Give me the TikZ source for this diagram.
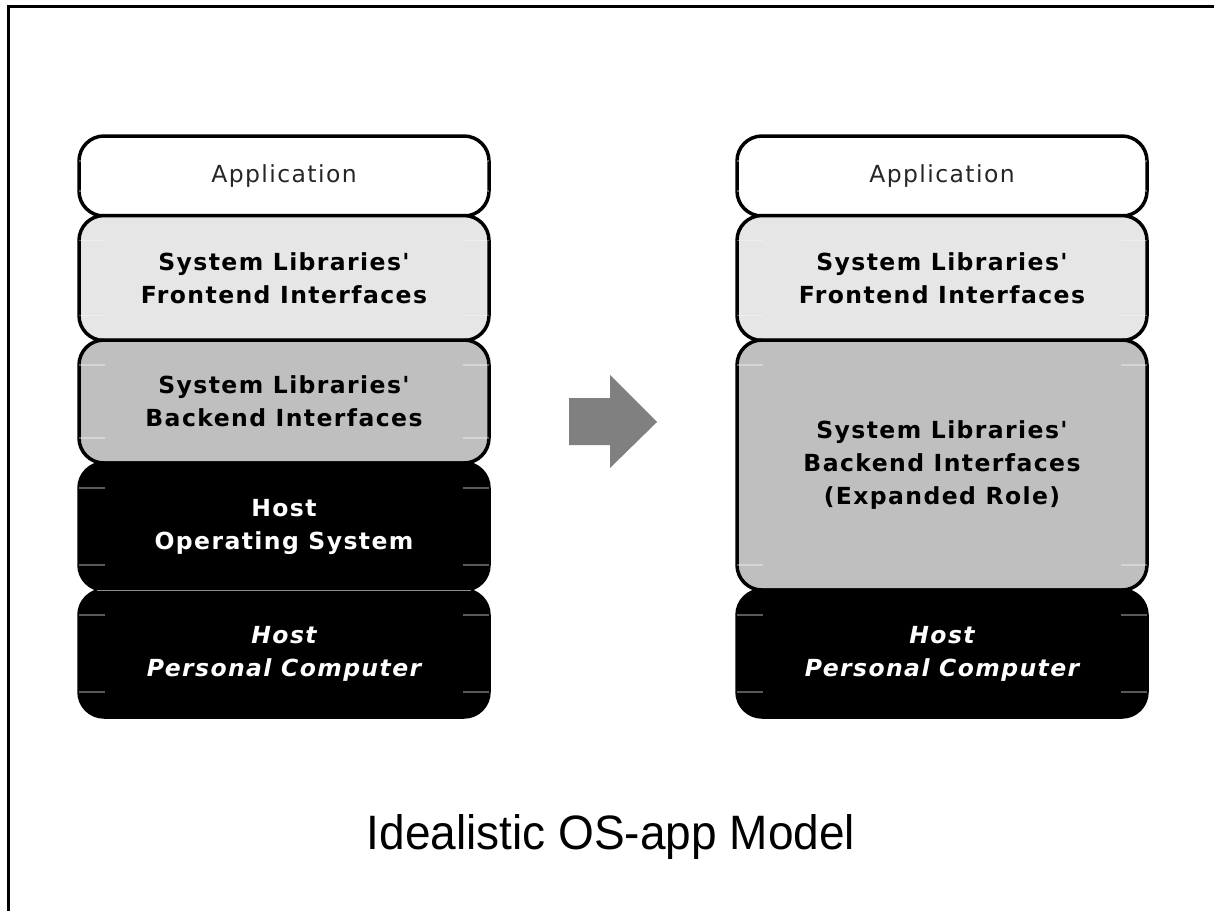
\documentclass[tikz,border=0pt]{standalone}
\usepackage{fontspec}
\setmainfont{DejaVu Sans}
\newfontfamily\layerfont[LetterSpace=6,Ligatures=TeXOff]{DejaVu Sans}
\newfontfamily\titlefont{Liberation Sans}
\definecolor{frontfill}{HTML}{E6E6E6}
\definecolor{backfill}{HTML}{BFBFBF}
\definecolor{arrowfill}{HTML}{808080}

\begin{document}
\begin{tikzpicture}[x=1pt,y=-1pt,
  layer/.style={rectangle, rounded corners=25pt, draw=black, line width=3.5pt,
    minimum width=410pt, inner sep=0pt, outer sep=0pt, align=center,
    font=\layerfont\fontsize{23.5}{33}\selectfont},
  applayer/.style={layer, fill=white, text=black!85, minimum height=80pt},
  frontlayer/.style={layer, fill=frontfill, font=\layerfont\fontsize{23.5}{33}\selectfont\bfseries, minimum height=125pt},
  backlayer/.style={layer, fill=backfill, font=\layerfont\fontsize{23.5}{33}\selectfont\bfseries},
  hostlayer/.style={layer, fill=black, text=white, font=\layerfont\fontsize{23.5}{33}\selectfont\bfseries, minimum height=127pt},
  tick/.style={white, opacity=0.35, line width=1.5pt},
  seam/.style={black!45, line width=1pt},
  frame/.style={line width=3pt}
]
\useasboundingbox[fill=white] (0,0) rectangle (1214,911);

% page frame
\draw[frame] (8,911) -- (8,6) -- (1214,6);

% left stack
\node[applayer]   (appL)   at (284,176)   {Application};
\node[frontlayer] (frontL) at (284,278) {System Libraries'\\Frontend Interfaces};
\node[backlayer, minimum height=123pt] (backL) at (284,401.5) {System Libraries'\\Backend Interfaces};
\node[hostlayer]  (osL)    at (284,526.5) {Host\\Operating System};
\node[hostlayer, font=\layerfont\fontsize{23.5}{33}\selectfont\bfseries\itshape] (pcL) at (284,653.5) {Host\\Personal Computer};

% right stack
\node[applayer]   (appR)   at (942,176)   {Application};
\node[frontlayer] (frontR) at (942,278) {System Libraries'\\Frontend Interfaces};
\node[backlayer, minimum height=250pt] (backR) at (942,465) {System Libraries'\\Backend Interfaces\\(Expanded Role)};
\node[hostlayer, font=\layerfont\fontsize{23.5}{33}\selectfont\bfseries\itshape] (pcR) at (942,653.5) {Host\\Personal Computer};

% edge ticks on each layer
\foreach \n in {appL,frontL,backL,osL,pcL,appR,frontR,backR,pcR}{
  \draw[tick] ([yshift=-25pt]\n.north west) -- ++(26,0);
  \draw[tick] ([yshift=-25pt]\n.north east) -- ++(-26,0);
  \draw[tick] ([yshift=25pt]\n.south west) -- ++(26,0);
  \draw[tick] ([yshift=25pt]\n.south east) -- ++(-26,0);
}

% seam between the two dark layers
\draw[seam] ([xshift=18pt]osL.south west) -- ([xshift=-18pt]osL.south east);

% transition arrow
\fill[arrowfill] (569,398) -- (610,398) -- (610,375) -- (657,422)
  -- (610,468) -- (610,445) -- (569,445) -- cycle;

% caption
\node[anchor=base, inner sep=0pt, font=\titlefont\fontsize{46}{54}\selectfont] (title) at (611,849) {\scalebox{1}[1.05]{Idealistic OS-app Model}};
\end{tikzpicture}
\end{document}
